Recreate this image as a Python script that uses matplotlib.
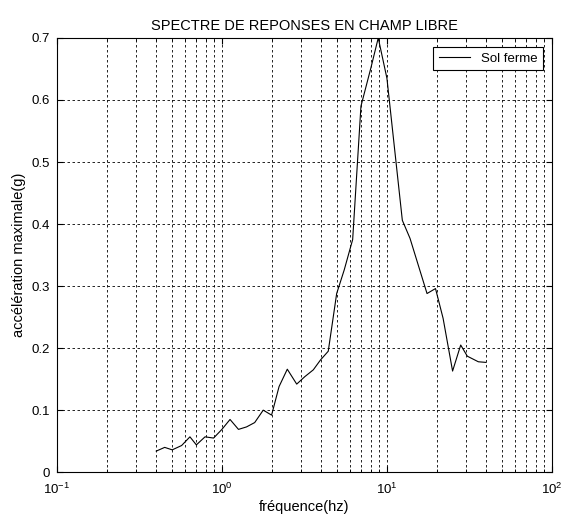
import matplotlib
matplotlib.use("Agg")
import matplotlib.pyplot as plt
from matplotlib.ticker import LogLocator, NullFormatter

plt.rcParams["font.family"] = ["Liberation Sans", "DejaVu Sans"]
plt.rcParams["mathtext.fontset"] = "custom"
plt.rcParams["mathtext.rm"] = "Liberation Sans"
plt.rcParams["mathtext.it"] = "Liberation Sans"
plt.rcParams["font.size"] = 9.5

# spectre de réponse, sol ferme
freq = [0.40, 0.45, 0.50, 0.57, 0.64, 0.70, 0.79, 0.89, 1.00, 1.12,
        1.26, 1.41, 1.58, 1.78, 2.00, 2.22, 2.49, 2.84, 3.18, 3.58,
        3.96, 4.41, 4.96, 5.51, 6.20, 6.96, 8.00, 8.86, 10.0, 12.4,
        13.8, 17.5, 19.7, 21.9, 25.0, 28.0, 30.7, 35.8, 39.8]
acc = [0.034, 0.040, 0.036, 0.043, 0.057, 0.044, 0.057, 0.055, 0.069, 0.085,
       0.069, 0.073, 0.080, 0.100, 0.092, 0.138, 0.166, 0.142, 0.154, 0.165,
       0.181, 0.195, 0.288, 0.326, 0.375, 0.590, 0.652, 0.700, 0.635, 0.406,
       0.377, 0.288, 0.296, 0.248, 0.163, 0.205, 0.187, 0.178, 0.177]

fig = plt.figure(figsize=(5.69, 5.27), dpi=100)
ax = fig.add_axes([0.100, 0.104, 0.870, 0.824])

ax.semilogx(freq, acc, color="black", linewidth=0.8, label="Sol ferme")

ax.set_xlim(0.1, 100)
ax.set_ylim(0, 0.7)
ax.xaxis.set_major_locator(LogLocator(base=10, numticks=10))
ax.xaxis.set_minor_locator(LogLocator(base=10, subs=range(2, 10), numticks=20))
ax.xaxis.set_minor_formatter(NullFormatter())
ax.set_yticks([0, 0.1, 0.2, 0.3, 0.4, 0.5, 0.6, 0.7])
ax.set_yticklabels(["0", "0.1", "0.2", "0.3", "0.4", "0.5", "0.6", "0.7"])

ax.grid(True, which="major", axis="both", color="black", linestyle=(0, (3, 3)), linewidth=0.6)
ax.grid(True, which="minor", axis="x", color="black", linestyle=(0, (3, 3)), linewidth=0.6)

ax.tick_params(which="both", direction="in", top=True, right=True)
ax.tick_params(which="major", length=4, pad=5)
ax.tick_params(axis="x", which="major", pad=7)
ax.tick_params(which="minor", length=2)
for s in ax.spines.values():
    s.set_linewidth(0.8)

ax.set_title("SPECTRE DE REPONSES EN CHAMP LIBRE", fontsize=10.5, pad=6)
ax.set_xlabel("fréquence(hz)", fontsize=10.5, labelpad=2)
ax.set_ylabel("accélération maximale(g)", fontsize=10.5, labelpad=4)

leg = ax.legend(loc="upper right", fancybox=False, framealpha=1, edgecolor="black",
                borderaxespad=0.7, handlelength=2.4, fontsize=9.5)
leg.get_frame().set_linewidth(0.8)

fig.savefig("out.png", dpi=100)
